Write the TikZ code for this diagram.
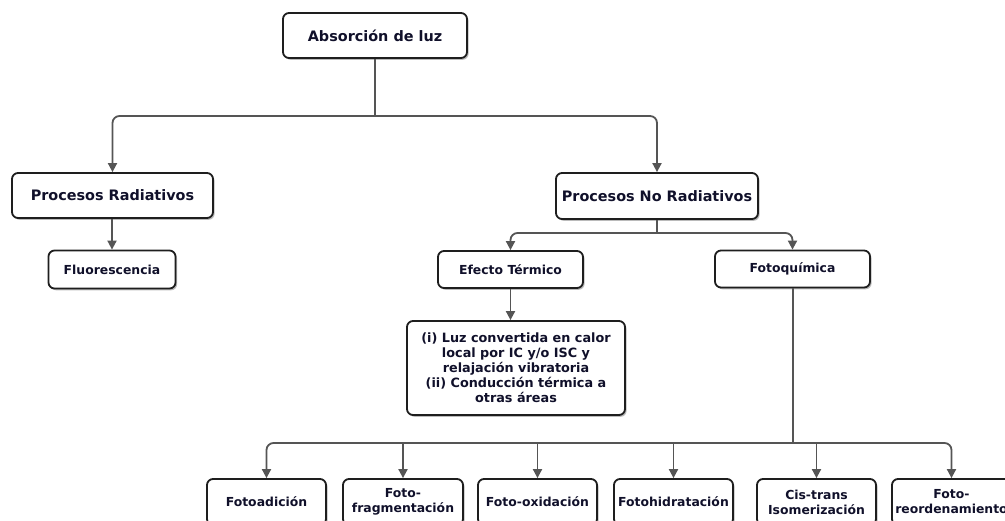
\documentclass[tikz,border=0pt]{standalone}
\usepackage{fontspec}
\setmainfont{DejaVu Sans}
\usetikzlibrary{arrows.meta,shadows}
\definecolor{conncol}{HTML}{555555}
\definecolor{boxcol}{HTML}{1E1E1E}
\definecolor{txtcol}{HTML}{10102A}
\tikzset{
  box/.style={draw=boxcol, line width=1.8pt, rounded corners=6pt, fill=white,
    text=txtcol, align=center, inner sep=0pt,
    drop shadow={shadow xshift=1.6pt, shadow yshift=-1.8pt, fill=black!45, opacity=0.6}},
  bigf/.style={font=\fontsize{14.4}{17}\selectfont\bfseries},
  midf/.style={font=\fontsize{12.4}{15}\selectfont\bfseries},
  txtf/.style={font=\fontsize{12.8}{15}\selectfont\bfseries},
  conn/.style={draw=conncol, line width=1.8pt, -{Triangle[length=9pt,width=9pt]}},
  plainconn/.style={draw=conncol, line width=1.8pt},
}
\begin{document}
\begin{tikzpicture}[x=1pt,y=-1pt]
\useasboundingbox (0,0) rectangle (1005,520);
% level 0
\node[box,bigf,minimum width=184pt,minimum height=45pt] (abs) at (375,35.5) {Absorción de luz};
% level 1
\node[box,bigf,minimum width=201pt,minimum height=45pt] (rad) at (112.5,195.5) {Procesos Radiativos};
\node[box,bigf,minimum width=202pt,minimum height=46pt] (nrad) at (657,196) {Procesos No Radiativos};
% level 2
\node[box,midf,minimum width=127pt,minimum height=38pt] (fluo) at (112,269.5) {Fluorescencia};
\node[box,midf,minimum width=145pt,minimum height=37pt] (efe) at (510.5,269.5) {Efecto Térmico};
\node[box,midf,minimum width=155pt,minimum height=37pt] (foto) at (792.5,269) {Fotoquímica};
\node[box,txtf,minimum width=218pt,minimum height=94pt] (tb) at (516,368) {(i) Luz convertida en calor\\local por IC y/o ISC y\\relajación vibratoria\\(ii) Conducción térmica a\\otras áreas};
% bottom level
\node[box,midf,minimum width=119pt,minimum height=46pt] (b1) at (266.5,502) {Fotoadición};
\node[box,midf,minimum width=120pt,minimum height=46pt] (b2) at (403,502) {Foto-\\fragmentación};
\node[box,midf,minimum width=119pt,minimum height=46pt] (b3) at (537.5,502) {Foto-oxidación};
\node[box,midf,minimum width=119pt,minimum height=46pt] (b4) at (673.5,502) {Fotohidratación};
\node[box,midf,minimum width=119pt,minimum height=46pt] (b5) at (816.5,502) {Cis-trans\\Isomerización};
\node[box,midf,minimum width=119pt,minimum height=46pt] (b6) at (951.5,502) {Foto-\\reordenamiento};
% connectors
\coordinate (j0) at (375,116);
\draw[plainconn] (abs.south) -- (j0);
\draw[conn,rounded corners=7pt] (j0) -| (rad.north);
\draw[conn,rounded corners=7pt] (j0) -| (nrad.north);
\draw[conn] (rad.south -| fluo.north) -- (fluo.north);
\coordinate (j1) at (657,233);
\draw[plainconn] (nrad.south) -- (j1);
\draw[conn,rounded corners=7pt] (j1) -| (efe.north);
\draw[conn,rounded corners=7pt] (j1) -| (foto.north);
\draw[conn] (efe.south) -- (efe.south |- tb.north);
\coordinate (j2) at (793,443);
\draw[plainconn] (foto.south -| j2) -- (j2);
\draw[conn,rounded corners=7pt] (j2) -| (b1.north);
\draw[conn,rounded corners=7pt] (j2) -| (b6.north);
\draw[conn] (b2.north |- j2) -- (b2.north);
\draw[conn] (b3.north |- j2) -- (b3.north);
\draw[conn] (b4.north |- j2) -- (b4.north);
\draw[conn] (b5.north |- j2) -- (b5.north);
\end{tikzpicture}
\end{document}
